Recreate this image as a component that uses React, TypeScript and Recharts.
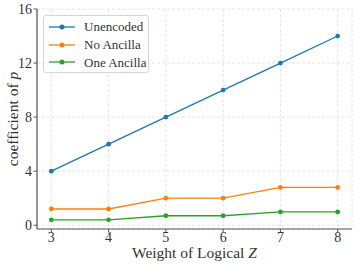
import React from 'react';
import { LineChart, Line, XAxis, YAxis, CartesianGrid, Legend } from 'recharts';

document.body.style.margin = '0';

const weights = [3, 4, 5, 6, 7, 8];
const unencoded = [4, 6, 8, 10, 12, 14];
const noAncilla = [1.2, 1.2, 2.0, 2.0, 2.8, 2.8];
const oneAncilla = [0.4, 0.4, 0.7, 0.7, 0.98, 0.98];
const xTicks = [3, 4, 5, 6, 7, 8];
const yTicks = [0, 4, 8, 12, 16];

const seriesInfo = [
  { key: 'unencoded', name: 'Unencoded', color: '#1f77b4' },
  { key: 'noAncilla', name: 'No Ancilla', color: '#ff7f0e' },
  { key: 'oneAncilla', name: 'One Ancilla', color: '#2ca02c' },
];

const data = weights.map((w, i) => ({
  w,
  unencoded: unencoded[i],
  noAncilla: noAncilla[i],
  oneAncilla: oneAncilla[i],
}));

const FONT = '"Liberation Serif", "Times New Roman", serif';

// legend drawn like the matplotlib box
const LegendBox = () => (
  <div
    style={{
      boxSizing: 'border-box',
      width: 106,
      height: 58,
      border: '1px solid #d6d6d6',
      borderRadius: 3,
      background: 'rgba(255,255,255,0.85)',
      padding: '2px 0 0 5px',
      fontFamily: FONT,
      fontSize: 13,
      lineHeight: 1,
      color: '#333',
      whiteSpace: 'nowrap',
    }}
  >
    {seriesInfo.map((s) => (
      <div key={s.key} style={{ display: 'flex', alignItems: 'center', height: 17.8 }}>
        <svg width={26} height={10} style={{ marginRight: 9, flexShrink: 0 }}>
          <line x1={0} y1={5} x2={26} y2={5} stroke={s.color} strokeWidth={1.3} />
          <circle cx={13} cy={5} r={2.5} fill={s.color} />
        </svg>
        <span style={{ fontFamily: FONT, whiteSpace: 'nowrap' }}>{s.name}</span>
      </div>
    ))}
  </div>
);

const YLabel = ({ viewBox }: any) => {
  const cx = 14;
  const cy = viewBox.y + viewBox.height / 2;
  return (
    <text
      x={cx}
      y={cy}
      transform={`rotate(-90, ${cx}, ${cy})`}
      textAnchor="middle"
      dominantBaseline="middle"
      fontFamily={FONT}
      fontSize={15.5}
      fill="#333"
    >
      coefficient of <tspan fontStyle="italic">p</tspan>
    </text>
  );
};

const XLabel = ({ viewBox }: any) => (
  <text
    x={viewBox.x + viewBox.width / 2}
    y={258}
    textAnchor="middle"
    fontFamily={FONT}
    fontSize={15.5}
    fill="#333"
  >
    Weight of Logical <tspan fontStyle="italic">Z</tspan>
  </text>
);

export default function App() {
  const tickStyle = { fontFamily: FONT, fontSize: 14, fill: '#333' };
  return (
    <div style={{ position: 'relative', fontFamily: FONT }}>
      <LineChart
        width={357}
        height={266}
        data={data}
        margin={{ top: 9, right: 5, left: 0, bottom: 0 }}
      >
        <CartesianGrid stroke="#e4e4e4" strokeDasharray="3 2" />
        <XAxis
          dataKey="w"
          type="number"
          domain={[2.75, 8.25]}
          ticks={xTicks}
          tick={tickStyle}
          tickSize={3.5}
          tickMargin={0}
          height={37}
          axisLine={{ stroke: '#555', strokeWidth: 1.2 }}
          tickLine={{ stroke: '#555' }}
          label={<XLabel />}
        />
        <XAxis
          xAxisId="top"
          orientation="top"
          dataKey="w"
          type="number"
          domain={[2.75, 8.25]}
          height={0}
          tick={false}
          tickLine={false}
          axisLine={{ stroke: '#999', strokeWidth: 1.2 }}
        />
        <YAxis
          type="number"
          domain={[-0.28, 16]}
          ticks={yTicks}
          tick={tickStyle}
          tickSize={3.5}
          tickMargin={1.5}
          width={37}
          allowDataOverflow
          axisLine={{ stroke: '#555', strokeWidth: 1.2 }}
          tickLine={{ stroke: '#555' }}
          label={<YLabel />}
        />
        <YAxis
          yAxisId="right"
          orientation="right"
          domain={[-0.28, 16]}
          width={0}
          tick={false}
          tickLine={false}
          axisLine={{ stroke: '#555', strokeWidth: 1.2 }}
        />
        <Legend
          content={<LegendBox />}
          layout="vertical"
          verticalAlign="middle"
          align="center"
          wrapperStyle={{ position: 'absolute', left: 43, top: 15, width: 106, height: 58, fontFamily: FONT }}
        />
        {seriesInfo.map((s) => (
          <Line
            key={s.key}
            dataKey={s.key}
            name={s.name}
            stroke={s.color}
            strokeWidth={1.3}
            dot={{ r: 2.4, fill: s.color, stroke: s.color, strokeWidth: 0 }}
            activeDot={false}
            isAnimationActive={false}
          />
        ))}
      </LineChart>
    </div>
  );
}
